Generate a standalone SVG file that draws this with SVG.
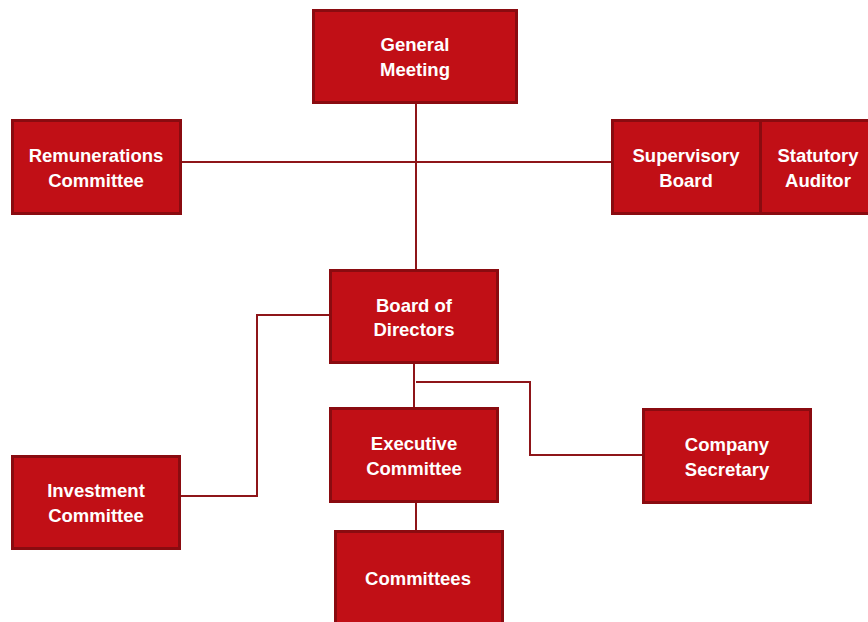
<svg xmlns="http://www.w3.org/2000/svg" width="868" height="622" viewBox="0 0 868 622">
  <style>
    .box { fill: #c10f16; stroke: #8a0b10; stroke-width: 3; }
    .lbl { fill: #ffffff; font-family: "Liberation Sans", Arial, sans-serif; font-weight: bold; font-size: 18.5px; text-anchor: middle; }
    .link { fill: none; stroke: #8e1519; stroke-width: 2; }
  </style>
  <rect width="868" height="622" fill="#ffffff"/>

  <g id="connectors">
    <line class="link" x1="416" y1="102" x2="416" y2="270"/>
    <line class="link" x1="180" y1="162" x2="612" y2="162"/>
    <line class="link" x1="414" y1="363" x2="414" y2="408"/>
    <line class="link" x1="416" y1="502" x2="416" y2="531"/>
    <polyline class="link" points="330,315 257,315 257,496 180,496"/>
    <polyline class="link" points="416,382 530,382 530,455 643,455"/>
  </g>

  <g id="general-meeting">
    <rect class="box" x="313.5" y="10.5" width="203" height="92"/>
    <text class="lbl" x="415" y="51">General</text>
    <text class="lbl" x="415" y="76">Meeting</text>
  </g>

  <g id="remunerations-committee">
    <rect class="box" x="12.5" y="120.5" width="168" height="93"/>
    <text class="lbl" x="96" y="162">Remunerations</text>
    <text class="lbl" x="96" y="187">Committee</text>
  </g>

  <g id="supervisory-board">
    <rect class="box" x="612.5" y="120.5" width="148" height="93"/>
    <text class="lbl" x="686" y="162">Supervisory</text>
    <text class="lbl" x="686" y="187">Board</text>
  </g>

  <g id="statutory-auditor">
    <rect class="box" x="760.5" y="120.5" width="112" height="93"/>
    <text class="lbl" x="818" y="162">Statutory</text>
    <text class="lbl" x="818" y="187">Auditor</text>
  </g>

  <g id="board-of-directors">
    <rect class="box" x="330.5" y="270.5" width="167" height="92"/>
    <text class="lbl" x="414" y="312">Board of</text>
    <text class="lbl" x="414" y="336">Directors</text>
  </g>

  <g id="executive-committee">
    <rect class="box" x="330.5" y="408.5" width="167" height="93"/>
    <text class="lbl" x="414" y="450">Executive</text>
    <text class="lbl" x="414" y="475">Committee</text>
  </g>

  <g id="investment-committee">
    <rect class="box" x="12.5" y="456.5" width="167" height="92"/>
    <text class="lbl" x="96" y="497">Investment</text>
    <text class="lbl" x="96" y="522">Committee</text>
  </g>

  <g id="company-secretary">
    <rect class="box" x="643.5" y="409.5" width="167" height="93"/>
    <text class="lbl" x="727" y="451">Company</text>
    <text class="lbl" x="727" y="476">Secretary</text>
  </g>

  <g id="committees">
    <rect class="box" x="335.5" y="531.5" width="167" height="95"/>
    <text class="lbl" x="418" y="585">Committees</text>
  </g>
</svg>
